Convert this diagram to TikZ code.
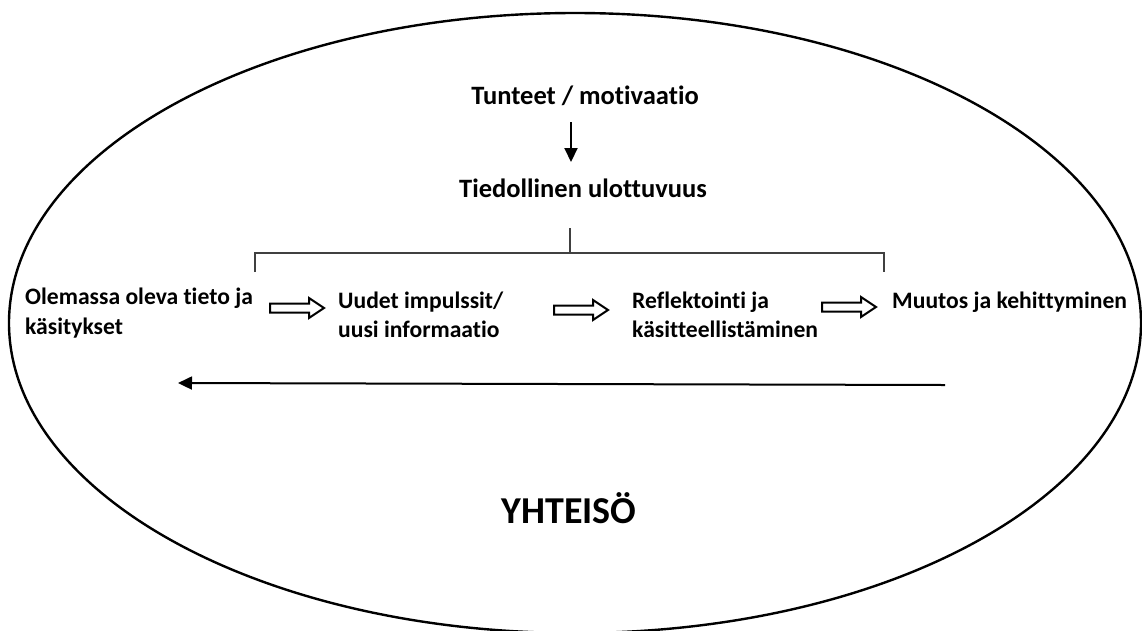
\documentclass[tikz,border=0pt]{standalone}
\usepackage{fontspec}
\setmainfont{Carlito}[Ligatures={NoCommon}]
\usetikzlibrary{arrows.meta,shapes.geometric}
\tikzset{
  lbl/.style={font=\bfseries\fontsize{23.6}{29.5}\selectfont, inner sep=0pt, align=left},
  toplbl/.style={font=\bfseries\fontsize{26.5}{32}\selectfont, inner sep=0pt},
  bigl/.style={font=\bfseries\fontsize{38}{44}\selectfont, inner sep=0pt},
  bracket/.style={draw=black!75, line width=1.4pt},
  solidarrow/.style={line width=2pt, -{Triangle[length=14pt,width=13pt]}},
  hollow/.style={draw=black, line width=2pt, fill=white, line join=miter}
}
\newcommand{\hollowarrow}[3]{% name, x, y (left end, centre line)
  \coordinate (#1) at (#2,#3);
  \draw[hollow] (#1) ++(0,-4.5) -- ++(39,0) -- ++(0,-5.5) -- ++(15,10) -- ++(-15,10) -- ++(0,-5.5) -- ++(-39,0) -- cycle;
}
\begin{document}
\begin{tikzpicture}[x=1pt,y=-1pt]
\useasboundingbox (0,0) rectangle (1142,630);
\clip (0,0) rectangle (1142,630);
\node[draw, line width=2.4pt, ellipse, inner sep=0pt, minimum width=1132pt, minimum height=620pt] (yht) at (575,323) {};
\node[toplbl] (tunteet) at (585,96) {Tunteet / motivaatio};
\node[toplbl] (tied) at (583,188) {Tiedollinen ulottuvuus};
\coordinate (dtop) at (571,122);
\coordinate (dbot) at (571,162);
\draw[solidarrow] (dtop) -- (dbot);
% bracket
\coordinate (bmid) at (570,228);
\coordinate (bmidb) at (570,253);
\coordinate (bl) at (255,253);
\coordinate (br) at (884,253);
\coordinate (bld) at (255,272);
\coordinate (brd) at (884,272);
\draw[bracket] (bmid) -- (bmidb);
\draw[bracket] (bld) -- (bl) -- (br) -- (brd);
% labels
\node[lbl, anchor=west] (ole) at (25,313) {Olemassa oleva tieto ja\\käsitykset};
\node[lbl, anchor=west] (uud) at (338,315) {Uudet impulssit/\\uusi informaatio};
\node[lbl, anchor=west] (ref) at (632,315) {Reflektointi ja\\käsitteellistäminen};
\node[lbl, anchor=west] (muu) at (892,302) {Muutos ja kehittyminen};
\hollowarrow{ha1}{270}{308}
\hollowarrow{ha2}{554}{310}
\hollowarrow{ha3}{822}{307}
% long arrow
\coordinate (lr) at (945,385);
\coordinate (ll) at (178,383);
\draw[solidarrow] (lr) -- (ll);
\node[bigl] (yhtl) at (569,508) {YHTEISÖ};
\end{tikzpicture}
\end{document}
